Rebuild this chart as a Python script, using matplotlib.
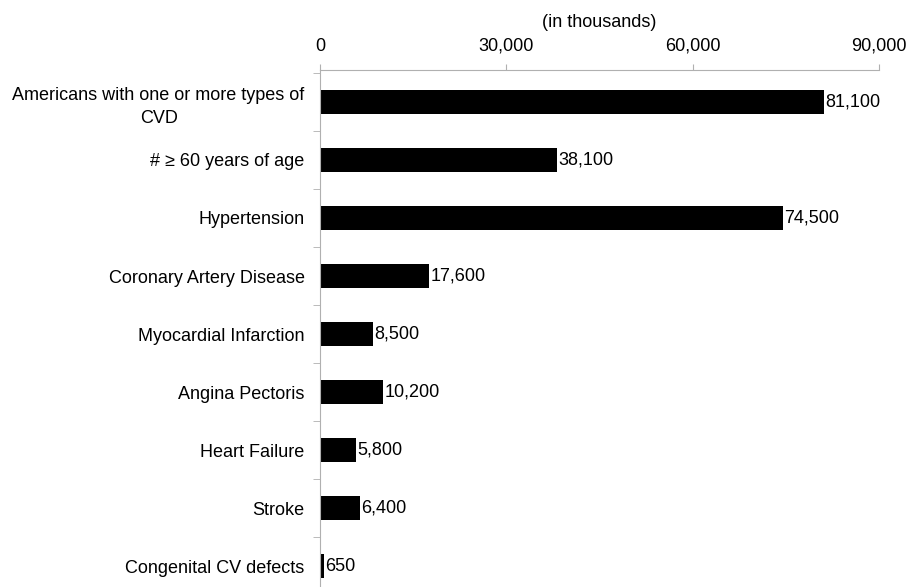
import matplotlib.pyplot as plt
import numpy as np

plt.rcParams['font.family'] = ['Liberation Sans', 'DejaVu Sans']

categories = ["Americans with one or more types of\nCVD", "# \u2265 60 years of age", "Hypertension",
              "Coronary Artery Disease", "Myocardial Infarction", "Angina Pectoris",
              "Heart Failure", "Stroke", "Congenital CV defects"]
values = [81100, 38100, 74500, 17600, 8500, 10200, 5800, 6400, 650]
xticks = [0, 30000, 60000, 90000]

fs = 13
fig = plt.figure(figsize=(9.07, 5.87), dpi=100)
ax = fig.add_axes([0.3528, 0.0, 0.6163, 0.8807])

y = np.arange(len(categories))
ax.barh(y, values, height=0.42, color='black')
for yi, v in zip(y, values):
    ax.text(v + 250, yi, f"{v:,}", va='center', ha='left', fontsize=fs)

ax.set_xlim(0, 90000)
ax.set_ylim(8.36, -0.55)
ax.xaxis.tick_top()
ax.xaxis.set_label_position('top')
ax.set_xticks(xticks)
ax.set_xticklabels([f"{t:,}" for t in xticks], fontsize=fs)
ax.set_xlabel("(in thousands)", fontsize=fs, labelpad=8)
ax.tick_params(axis='x', colors='#b0b0b0', length=4, labelcolor='black', pad=7)

ax.set_yticks(y)
ax.set_yticklabels(categories, fontsize=fs, ha='right', multialignment='center',
                   linespacing=1.5)
ax.tick_params(axis='y', which='major', length=0, pad=11)
ax.set_yticks(np.arange(-0.5, 8.5, 1), minor=True)
ax.tick_params(axis='y', which='minor', length=5, color='#b0b0b0')

for s in ['right', 'bottom']:
    ax.spines[s].set_visible(False)
for s in ['top', 'left']:
    ax.spines[s].set_color('#b0b0b0')

fig.savefig('out.png', dpi=100)
